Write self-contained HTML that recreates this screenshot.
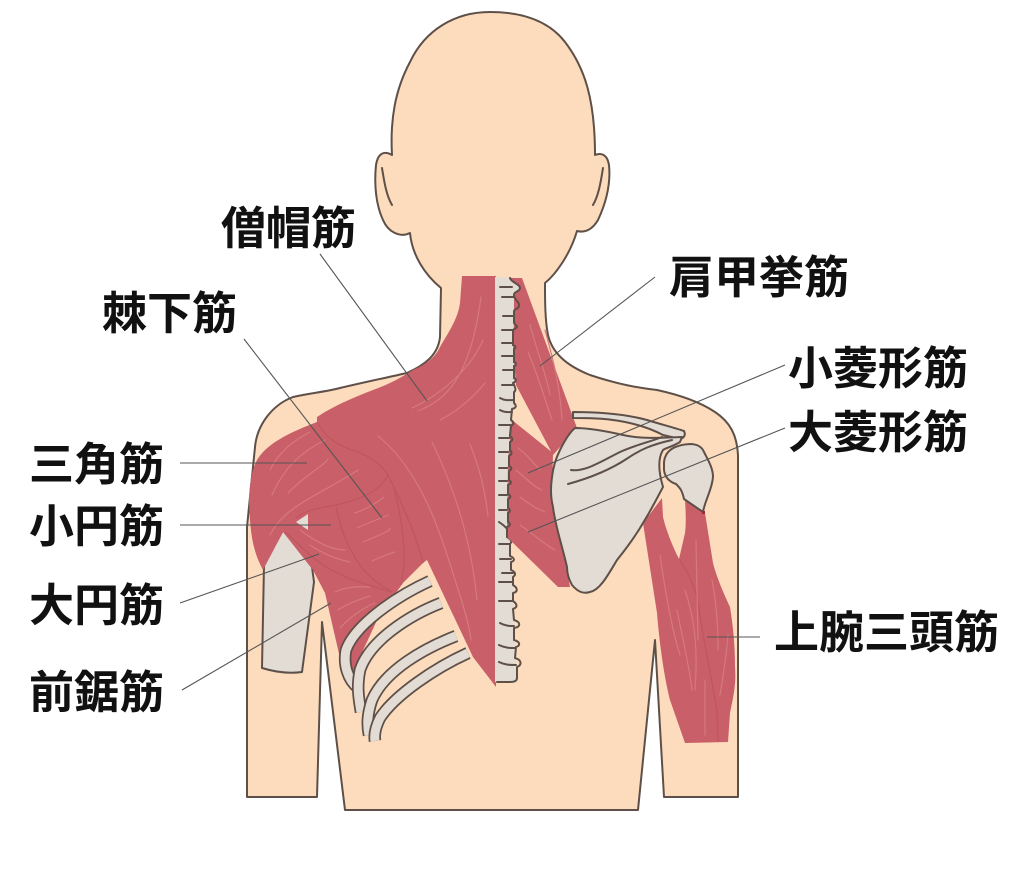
<!DOCTYPE html>
<html lang="ja">
<head>
<meta charset="utf-8">
<style>
html,body{margin:0;padding:0;background:#fff;width:1024px;height:878px;overflow:hidden}
svg{display:block}
text{font-family:"Liberation Sans","Noto Sans CJK JP",sans-serif;font-size:45px;font-weight:bold;fill:#111}
.o{stroke:#5e5048;stroke-width:2;stroke-linejoin:round;stroke-linecap:round}
.f{fill:none;stroke:#d6797d;stroke-width:1.2;stroke-linecap:round}
.i{fill:none;stroke:#bf555e;stroke-width:1.2}
.l{fill:none;stroke:#555;stroke-width:1.1}
</style>
</head>
<body>
<svg width="1024" height="878" viewBox="0 0 1024 878" xmlns="http://www.w3.org/2000/svg">
<!-- body -->
<path class="o" fill="#fcdcbd" d="M490 12 C520 12 548 20 565 42 C585 68 595 100 595 155 C600 153 607 153 609 165 C611 185 605 205 598 220 C592 230 585 233 577 231 C570 255 555 275 545 283 C545 300 545 320 548 335 C552 352 565 365 590 375 C620 385 640 388 657 390 C680 395 700 402 715 412 C730 422 737 435 738 455 L738 797 L664 797 L655 640 L638 810 L345 810 L322 622 L317 797 L247 797 L247 527 L255 447 C257 425 272 405 293 397 C310 393 325 392 340 388 C365 382 385 378 407 373 C425 365 438 355 440 337 L441 288 C425 275 412 255 410 233 C400 238 388 232 383 220 C376 205 374 185 376 165 C378 152 385 151 392 155 C390 120 395 90 410 62 C425 30 455 12 490 12 Z"/>
<path fill="none" class="o" stroke-width="1.5" d="M382 168 C384 180 386 195 392 205 M603 168 C601 180 599 195 593 205"/>
<!-- left humerus -->
<path class="o" fill="#e2dcd5" d="M283 530 L312 567 L314 582 L302 672 C288 674 275 672 262 668 L264 565 Z"/>
<!-- back muscles -->
<path fill="#c95f68" d="M462 276 L496 276 L496 687 L473 657 L427 560 L423 563 L403 583 L378 618 L353 672 L340 658 L325 593 L313 570 L283 532 L263 570 C255 555 250 540 249 500 C250 480 252 470 257 460 C265 447 280 436 317 422 L317 417 C335 405 355 397 373 390 C390 384 402 377 413 370 C425 365 435 358 440 347 C450 330 458 318 460 303 Z"/>
<path fill="#e4ddd6" d="M296 522 L308 514 L308 530 Z"/>
<!-- inner muscle lines -->
<path class="i" d="M317 422 C330 445 345 447 365 455 C378 462 385 470 388 475 C380 492 358 500 336 505 C320 508 305 510 296 518"/>
<path class="i" d="M336 507 C340 525 345 540 352 552 C362 572 375 582 392 592 M393 485 C400 510 405 540 404 565 L401 585 M388 475 C400 500 415 530 423 563"/>
<path class="i" d="M285 532 C300 545 315 562 335 572 C355 582 375 587 392 592"/>
<!-- fibres -->
<path class="f" d="M418 411 C445 400 470 380 481 297 M412 408 C440 395 470 370 483 340 M440 420 C460 410 475 395 485 383"/>
<path class="f" d="M378 436 C420 470 440 530 455 580 C465 610 470 630 471 640 M432 442 C450 480 470 530 477 600 M470 444 C480 470 485 490 488 516"/>
<path class="f" d="M270 470 C280 450 295 440 310 432 M272 495 C285 465 305 450 325 440 M288 493 C305 475 325 465 328 459 M270 535 C285 505 320 495 358 470"/>
<path class="f" d="M355 513 C370 508 380 500 384 497 M357 528 C370 522 382 518 388 515 M363 542 C380 535 392 530 390 528 M372 561 C385 555 395 552 395 552"/>
<path class="f" d="M300 530 C320 545 335 550 345 550 M310 545 C325 555 340 560 350 562 M335 592 C350 585 365 587 370 587 M338 610 C350 602 365 598 370 596 M340 628 C355 612 370 605 375 603"/>
<!-- spine -->
<path fill="#e2dcd5" d="M495 277 L510 278 L520 288 L514 293 L520 305 L514 312 L515 383 L512 420 L508 460 L508 533 L512 560 L515 640 L517 682 L495 682 Z"/>
<path class="o" fill="none" d="M510 278 C512 283 520 284 520 288 C520 292 514 291 514 295 C514 300 520 302 519 306 C518 310 514 308 514 312 L514 322 C514 325 518 326 517 327 C516 329 513 328 513 332 L513 345 C516 346 516 348 514 349 L514 362 C517 363 516 366 514 366 L514 378 C517 379 516 382 513 383 C516 388 516 391 514 392 L514 403 C517 406 516 408 512 409 L511 420 C515 423 513 425 511 426 L510 436 C514 439 512 441 510 442 L510 450 C513 453 511 455 509 456 L509 466 C513 468 511 470 509 471 L509 480 C512 482 511 484 508 485 L508 494 C512 496 510 498 508 499 L508 508 C511 510 510 512 508 513 L508 522 C511 524 510 526 507 527 L507 537 C512 540 512 542 510 544 L510 556 C515 558 515 561 511 562 L511 570 C516 572 516 575 513 577 L513 585 C518 588 518 592 513 593 L513 601 C516 603 519 607 513 609 L514 620 C521 622 521 627 514 628 L514 640 C521 642 520 646 516 647 L515 658 C522 660 522 665 517 667 L517 678 C517 681 514 682 510 682 L497 682"/>
<path class="o" fill="none" stroke-width="1.5" d="M500 287 H512 M502 297 H514 M503 316 H514 M502 330 H513 M502 343 H513 M502 356 H514 M503 370 H514 M502 385 H514 M500 398 C505 401 510 400 514 400 M500 410 C505 413 510 412 512 412 M499 425 H511 M499 438 H510 M499 452 H509 M499 468 H509 M499 481 H508 M499 495 H508 M499 510 H508 M499 522 C503 525 505 526 507 529 M499 544 H510 M500 559 H511 M502 573 H513 M499 582 H513 M499 601 H513 M500 623 C505 626 510 626 514 626 M499 645 C505 648 510 648 515 648 M499 662 C505 665 510 665 516 665"/>
<!-- levator -->
<path fill="#c95f68" d="M514 293 L520 288 L510 278 L522 278 L577 428 L553 455 L516 385 L513 345 L514 322 Z"/>
<!-- rhomboid -->
<path fill="#c95f68" d="M512 420 L553 453 L552 493 L570 587 L558 587 L507 537 L508 460 Z"/>
<path class="o" fill="none" d="M510 278 C512 283 520 284 520 288 C520 292 514 291 514 295 C514 300 520 302 519 306 C518 310 514 308 514 312 L514 322 C514 325 518 326 517 327 C516 329 513 328 513 332 L513 345 C516 346 516 348 514 349 L514 362 C517 363 516 366 514 366 L514 378 C517 379 516 382 513 383"/>
<path class="o" fill="none" d="M511 420 C515 423 513 425 511 426 L510 436 C514 439 512 441 510 442 L510 450 C513 453 511 455 509 456 L509 466 C513 468 511 470 509 471 L509 480 C512 482 511 484 508 485 L508 494 C512 496 510 498 508 499 L508 508 C511 510 510 512 508 513 L508 522 C511 524 510 526 507 527 L507 537"/>
<path class="f" d="M530 325 C535 345 545 370 550 395 M528 352 C538 375 545 400 552 420 M545 330 C552 355 560 385 562 420"/>
<path class="f" d="M518 448 C528 455 535 465 540 470 M516 470 C528 480 535 488 542 490 M520 497 C530 505 540 510 545 512 M520 525 C535 535 545 545 555 550"/>
<!-- triceps -->
<path fill="#c95f68" d="M662 498 L643 523 L657 613 C660 650 665 680 670 700 L685 743 L728 742 L730 713 C735 690 736 680 735 667 C735 640 732 620 730 607 C722 590 716 575 713 563 L705 513 L685 500 C686 515 686 525 685 533 L679 559 C672 545 666 530 663 517 Z"/>
<path class="i" d="M679 559 C690 575 697 590 700 615 C705 650 712 680 717 710 L718 742"/>
<path class="f" d="M660 555 C665 590 672 630 680 655 M677 610 C683 640 690 670 692 690 M685 590 C695 620 698 650 695 690 M696 540 L698 640 M712 580 C718 610 718 640 718 650 M728 635 C727 650 725 665 720 695 M705 680 L705 735"/>
<!-- ribs -->
<g fill="none" stroke-linecap="butt">
<path stroke="#5e5048" stroke-width="12.5" d="M430 581 C395 597 355 625 346 650 C343 665 348 680 358 688"/>
<path stroke="#e2dcd5" stroke-width="9" d="M430 581 C395 597 355 625 346 650 C343 665 348 680 358 688"/>
<path stroke="#5e5048" stroke-width="12.5" d="M441 603 C410 615 370 640 360 670 C357 685 358 695 361 712"/>
<path stroke="#e2dcd5" stroke-width="9" d="M441 603 C410 615 370 640 360 670 C357 685 358 695 361 712"/>
<path stroke="#5e5048" stroke-width="12.5" d="M456 636 C425 648 385 670 372 700 C367 715 367 725 369 735"/>
<path stroke="#e2dcd5" stroke-width="9" d="M456 636 C425 648 385 670 372 700 C367 715 367 725 369 735"/>
<path stroke="#5e5048" stroke-width="12.5" d="M468 653 C435 668 395 695 380 718 C375 728 374 735 375 741"/>
<path stroke="#e2dcd5" stroke-width="9" d="M468 653 C435 668 395 695 380 718 C375 728 374 735 375 741"/>
</g>
<!-- scapula -->
<path class="o" fill="#e2dcd5" d="M573 412 C600 412 625 414 647 420 C660 424 675 428 684 431 C686 435 684 438 680 439 L663 435 C650 428 635 423 613 420 C600 418 585 418 573 418 Z"/>
<path class="o" fill="#e2dcd5" d="M575 428 C590 428 610 432 623 435 C640 439 660 438 682 437 L680 442 C672 447 665 448 663 450 C658 458 658 470 663 487 C656 500 650 512 643 523 C635 537 625 550 617 560 C608 575 600 590 590 592 C583 594 578 592 572 585 C568 578 567 572 567 567 C562 545 555 525 553 507 C550 495 551 485 552 477 C553 468 556 458 560 450 C565 440 570 432 575 428 Z"/>
<path class="o" fill="none" d="M571 470 C585 472 600 462 620 452 C635 445 650 442 662 437 M568 484 C590 478 610 470 628 458 C640 450 650 445 672 440"/>
<!-- humeral head -->
<path class="o" fill="#e2dcd5" d="M664 462 C665 452 672 445 690 444 C697 444 702 447 704 452 C708 460 713 468 713 477 C712 490 705 500 703 512 L684 499 C682 490 680 488 676 484 C670 482 665 478 664 470 Z"/>
<path fill="#9c2d38" d="M702 511 h3 v3 h-3 Z"/>
<!-- leaders -->
<g class="l">
<path d="M320 254 L427 401"/>
<path d="M244 339 L382 518"/>
<path d="M655 277 L540 366"/>
<path d="M785 365 L528 473"/>
<path d="M785 428 L528 532"/>
<path d="M180 463 L307 463"/>
<path d="M180 525 L331 525"/>
<path d="M180 603 L319 554"/>
<path d="M182 690 L331 603"/>
<path d="M760 637 L707 637"/>
</g>
<!-- labels -->
<text x="221" y="244">僧帽筋</text>
<text x="102" y="329">棘下筋</text>
<text x="669" y="293">肩甲挙筋</text>
<text x="788" y="384">小菱形筋</text>
<text x="788" y="448">大菱形筋</text>
<text x="29" y="480">三角筋</text>
<text x="29" y="542">小円筋</text>
<text x="29" y="621">大円筋</text>
<text x="29" y="708">前鋸筋</text>
<text x="774" y="648">上腕三頭筋</text>
</svg>
</body>
</html>
